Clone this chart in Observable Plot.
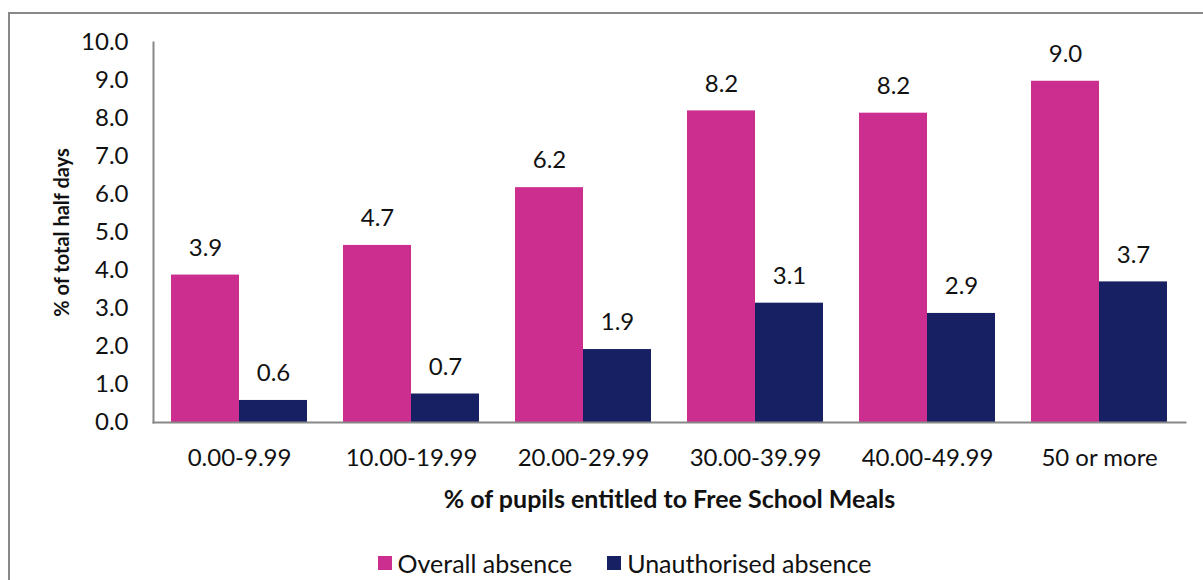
<!DOCTYPE html>
<html>
<head>
<meta charset="utf-8">
<script src="https://cdn.jsdelivr.net/npm/d3@7"></script>
<script src="https://cdn.jsdelivr.net/npm/@observablehq/plot@0.6"></script>
<style>
  html, body { margin: 0; padding: 0; background: #fff; overflow: hidden; }
  body { width: 1203px; height: 580px; position: relative; font-family: Lato, "Open Sans", sans-serif; }
  #frame { position: absolute; left: 8px; top: 12px; width: 1300px; height: 700px; border-left: 2px solid #888; border-top: 2px solid #888; box-sizing: border-box; }
  #chart { position: absolute; left: 0; top: 0; }
  #legend { position: absolute; left: 0; width: 1249px; top: 549px; height: 28px; display: flex; justify-content: center; gap: 35px; font-size: 25px; line-height: 28px; color: #111; }
  .item { display: flex; align-items: center; gap: 6px; }
  .sw { width: 14px; height: 14px; display: inline-block; }
</style>
</head>
<body>
<div id="frame"></div>
<div id="chart"></div>
<div id="legend"></div>
<script>
const categories = ["0.00-9.99", "10.00-19.99", "20.00-29.99", "30.00-39.99", "40.00-49.99", "50 or more"];
const seriesNames = ["Overall absence", "Unauthorised absence"];
const overall = [3.9, 4.7, 6.2, 8.2, 8.2, 9.0];
const overallHeights = [3.88, 4.66, 6.18, 8.2, 8.14, 8.98];
const unauthorised = [0.6, 0.7, 1.9, 3.1, 2.9, 3.7];
const unauthorisedHeights = [0.58, 0.75, 1.92, 3.14, 2.87, 3.7];
const seriesColors = ["#CC2E8F", "#172063"];
const yTicks = [0, 1, 2, 3, 4, 5, 6, 7, 8, 9, 10];

const rows = [];
categories.forEach((c, i) => {
  rows.push({cat: c, series: seriesNames[0], value: overallHeights[i], label: overall[i]});
  rows.push({cat: c, series: seriesNames[1], value: unauthorisedHeights[i], label: unauthorised[i]});
});

const font = "Lato, 'Open Sans', sans-serif";
const chart = Plot.plot({
  width: 1203,
  height: 580,
  marginLeft: 151,
  marginRight: 17,
  marginTop: 42,
  marginBottom: 158,
  style: {fontFamily: font, fontSize: "24px", color: "#111", background: "transparent"},
  fx: {domain: categories, padding: 0, label: "% of pupils entitled to Free School Meals"},
  x: {domain: seriesNames, paddingInner: 0, paddingOuter: 0.25, axis: null},
  y: {domain: [0, 10], label: "% of total half days"},
  color: {domain: seriesNames, range: seriesColors},
  marks: [
    Plot.barY(rows, {fx: "cat", x: "series", y: "value", fill: "series"}),
    Plot.text(rows, {fx: "cat", x: "series", y: "value", text: d => d3.format(".1f")(d.label), dy: -27, fontSize: 24, fill: "#111"}),
    Plot.frame({anchor: "left", stroke: "#888", strokeWidth: 2, facet: "super"}),
    Plot.frame({anchor: "bottom", stroke: "#888", strokeWidth: 2, facet: "super"}),
    Plot.axisY({ticks: yTicks, tickFormat: d3.format(".1f"), tickSize: 0, tickPadding: 25, fontSize: 24,
      label: "% of total half days", labelAnchor: "center", labelArrow: "none", labelOffset: 99}),
    Plot.axisFx({anchor: "bottom", tickSize: 0, tickPadding: 26, fontSize: 24,
      label: "% of pupils entitled to Free School Meals", labelAnchor: "center", labelArrow: "none", labelOffset: 85})
  ]
});
// bold axis titles
chart.querySelectorAll("[aria-label='y-axis label'] text").forEach(t => {
  t.setAttribute("font-weight", "bold");
  t.setAttribute("font-size", "20");
});
chart.querySelectorAll("[aria-label='fx-axis label'] text").forEach(t => {
  t.setAttribute("font-weight", "bold");
  t.setAttribute("font-size", "25");
});
document.getElementById("chart").appendChild(chart);

const legend = document.getElementById("legend");
seriesNames.forEach((s, i) => {
  const item = document.createElement("div");
  item.className = "item";
  const sw = document.createElement("span");
  sw.className = "sw";
  sw.style.background = seriesColors[i];
  const tx = document.createElement("span");
  tx.textContent = s;
  item.appendChild(sw);
  item.appendChild(tx);
  legend.appendChild(item);
});
</script>
</body>
</html>
